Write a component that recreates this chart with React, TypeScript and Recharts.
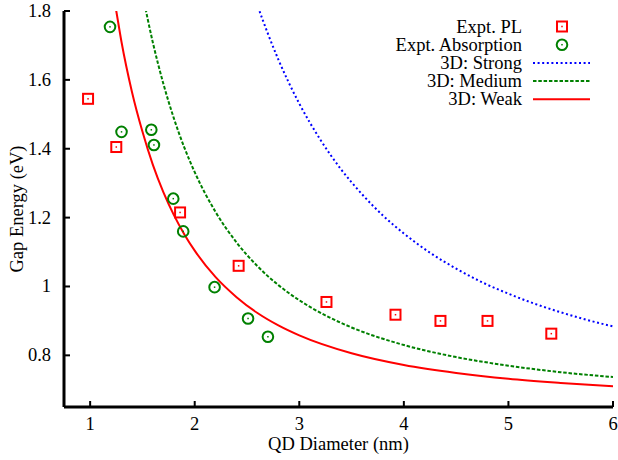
import React from "react";
import {
  ComposedChart,
  Line,
  Scatter,
  XAxis,
  YAxis,
} from "recharts";

// measured points, [diameter nm, energy eV]
const plPoints = [
  [0.98, 1.545],
  [1.25, 1.405],
  [1.86, 1.215],
  [2.42, 1.06],
  [3.26, 0.955],
  [3.92, 0.918],
  [4.35, 0.9],
  [4.8, 0.9],
  [5.41, 0.863],
];

const absPoints = [
  [1.19, 1.754],
  [1.3, 1.449],
  [1.585, 1.455],
  [1.61, 1.411],
  [1.795, 1.255],
  [1.89, 1.16],
  [2.19, 0.998],
  [2.51, 0.907],
  [2.7, 0.854],
];

// model curves (first point sits above the frame, gets clipped)
const strongCurve = [
  [2.55, 1.863], [2.6, 1.817], [2.7, 1.734], [2.8, 1.659], [3.0, 1.531],
  [3.2, 1.427], [3.4, 1.34], [3.6, 1.268], [3.8, 1.206], [4.0, 1.154],
  [4.25, 1.098], [4.5, 1.052], [4.75, 1.012], [5.0, 0.979], [5.25, 0.95],
  [5.5, 0.925], [5.75, 0.903], [6.0, 0.884],
];

const mediumCurve = [
  [1.5, 1.852], [1.55, 1.777], [1.6, 1.708], [1.7, 1.589], [1.8, 1.489],
  [1.9, 1.404], [2.0, 1.332], [2.2, 1.216], [2.4, 1.128], [2.6, 1.059],
  [2.8, 1.004], [3.0, 0.96], [3.25, 0.916], [3.5, 0.881], [4.0, 0.83],
  [4.5, 0.795], [5.0, 0.77], [5.5, 0.751], [6.0, 0.737],
];

const weakCurve = [
  [1.2, 1.89], [1.25, 1.8], [1.3, 1.71], [1.4, 1.565], [1.5, 1.45],
  [1.6, 1.353], [1.7, 1.274], [1.8, 1.208], [1.9, 1.152], [2.0, 1.104],
  [2.2, 1.027], [2.4, 0.969], [2.6, 0.923], [2.8, 0.887], [3.0, 0.858],
  [3.5, 0.806], [4.0, 0.772], [4.5, 0.749], [5.0, 0.732], [5.5, 0.72],
  [6.0, 0.71],
];

const xTicks = [1, 2, 3, 4, 5, 6];
const yTicks = [0.8, 1, 1.2, 1.4, 1.6, 1.8];

const toRows = (pts: number[][]) => pts.map(([d, e]) => ({ d, e }));

const FONT = '"Liberation Serif", "Times New Roman", Times, serif';
const FS = 18.5;
const txt = { fontFamily: FONT, fontSize: FS, fill: "#000" };
const RED = "#ff0000";
const GREEN = "#008000";
const BLUE = "#0000ff";

const W = 618;
const H = 460;

const lines = [
  { name: "3D: Strong", data: strongCurve, color: BLUE, dash: "2 2.6" },
  { name: "3D: Medium", data: mediumCurve, color: GREEN, dash: "3.5 1.8" },
  { name: "3D: Weak", data: weakCurve, color: RED, dash: undefined },
];

const SquareMark = (props: any) => {
  const { cx, cy } = props;
  return (
    <g>
      <rect x={cx - 5} y={cy - 5} width={10} height={10} fill="none" stroke={RED} strokeWidth={2} />
      <rect x={cx - 0.75} y={cy - 0.75} width={1.5} height={1.5} fill={RED} />
    </g>
  );
};

const CircleMark = (props: any) => {
  const { cx, cy } = props;
  return (
    <g>
      <circle cx={cx} cy={cy} r={5.3} fill="none" stroke={GREEN} strokeWidth={2} />
      <rect x={cx - 0.75} y={cy - 0.75} width={1.5} height={1.5} fill={GREEN} />
    </g>
  );
};

// inward ticks, labels outside
const BottomTick = ({ x, y, payload }: any) => (
  <g>
    <line x1={x} x2={x} y1={y} y2={y - 6} stroke="#000" strokeWidth={2} />
    <text x={x} y={y + 23} textAnchor="middle" style={txt}>
      {payload.value}
    </text>
  </g>
);

const TopTick = ({ x, y }: any) => (
  <line x1={x} x2={x} y1={y} y2={y + 6} stroke="#000" strokeWidth={2} />
);

const LeftTick = ({ x, y, payload }: any) => (
  <g>
    <line x1={x} x2={x + 6} y1={y} y2={y} stroke="#000" strokeWidth={2} />
    <text x={x - 13} y={y + 6} textAnchor="end" style={txt}>
      {payload.value}
    </text>
  </g>
);

const RightTick = ({ x, y }: any) => (
  <line x1={x} x2={x - 6} y1={y} y2={y} stroke="#000" strokeWidth={2} />
);

function LegendBox() {
  const textX = 522;
  const symX = 562;
  const rowY = (i: number) => 26.5 + i * 18.2;
  return (
    <svg width={W} height={120} style={{ position: "absolute", left: 0, top: 0, pointerEvents: "none" }}>
      <text x={textX} y={rowY(0) + 6} textAnchor="end" style={txt}>Expt. PL</text>
      <SquareMark cx={symX} cy={rowY(0)} />
      <text x={textX} y={rowY(1) + 6} textAnchor="end" style={txt}>Expt. Absorption</text>
      <CircleMark cx={symX} cy={rowY(1)} />
      {lines.map((l, i) => (
        <g key={l.name}>
          <text x={textX} y={rowY(i + 2) + 6} textAnchor="end" style={txt}>
            {l.name}
          </text>
          <line
            x1={533}
            x2={590}
            y1={rowY(i + 2)}
            y2={rowY(i + 2)}
            stroke={l.color}
            strokeWidth={2}
            strokeDasharray={l.dash}
          />
        </g>
      ))}
    </svg>
  );
}

export default function App() {
  return (
    <div style={{ position: "absolute", left: 0, top: 0, width: W, height: H }}>
      <ComposedChart width={W} height={H} margin={{ top: 11, right: 5, bottom: 0, left: 0 }}>
        <XAxis
          dataKey="d"
          type="number"
          domain={[0.75, 6]}
          ticks={xTicks}
          interval={0}
          allowDataOverflow
          height={53}
          tickSize={0}
          tickMargin={0}
          tickLine={false}
          axisLine={{ stroke: "#000", strokeWidth: 3 }}
          tick={<BottomTick />}
          label={(p: any) => {
            const vb = p.viewBox;
            return (
              <text x={vb.x + vb.width / 2} y={vb.y + 43} textAnchor="middle" style={txt}>
                QD Diameter (nm)
              </text>
            );
          }}
        />
        <XAxis
          xAxisId="top"
          orientation="top"
          dataKey="d"
          type="number"
          domain={[0.75, 6]}
          ticks={xTicks}
          interval={0}
          allowDataOverflow
          height={0}
          tickSize={0}
          tickMargin={0}
          tickLine={false}
          axisLine={{ stroke: "#000", strokeWidth: 3 }}
          tick={<TopTick />}
        />
        <YAxis
          type="number"
          domain={[0.65, 1.8]}
          ticks={yTicks}
          interval={0}
          allowDataOverflow
          width={64}
          tickSize={0}
          tickMargin={0}
          tickLine={false}
          axisLine={{ stroke: "#000", strokeWidth: 3 }}
          tick={<LeftTick />}
          label={(p: any) => {
            const vb = p.viewBox;
            const cx = vb.x + 17;
            const cy = vb.y + vb.height / 2;
            return (
              <text
                x={cx}
                y={cy}
                transform={`rotate(-90 ${cx} ${cy})`}
                textAnchor="middle"
                dominantBaseline="central"
                style={txt}
              >
                Gap Energy (eV)
              </text>
            );
          }}
        />
        <YAxis
          yAxisId="right"
          orientation="right"
          type="number"
          domain={[0.65, 1.8]}
          ticks={yTicks}
          interval={0}
          allowDataOverflow
          width={0}
          tickSize={0}
          tickMargin={0}
          tickLine={false}
          axisLine={{ stroke: "#000", strokeWidth: 3 }}
          tick={<RightTick />}
        />
        {lines.map((l) => (
          <Line
            key={l.name}
            data={toRows(l.data)}
            dataKey="e"
            name={l.name}
            type="monotone"
            stroke={l.color}
            strokeWidth={2}
            strokeDasharray={l.dash}
            dot={false}
            activeDot={false}
            isAnimationActive={false}
          />
        ))}
        <Scatter
          name="Expt. PL"
          data={toRows(plPoints)}
          dataKey="e"
          shape={<SquareMark />}
          isAnimationActive={false}
        />
        <Scatter
          name="Expt. Absorption"
          data={toRows(absPoints)}
          dataKey="e"
          shape={<CircleMark />}
          isAnimationActive={false}
        />
      </ComposedChart>
      <LegendBox />
    </div>
  );
}
